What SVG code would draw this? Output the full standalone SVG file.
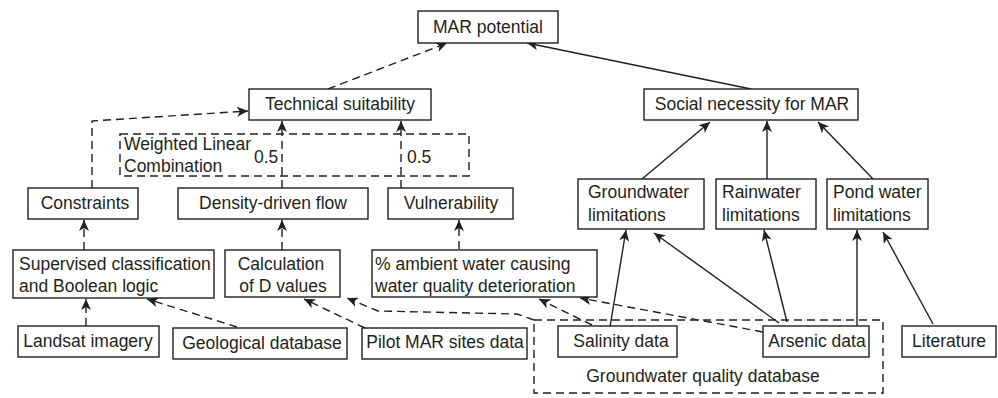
<svg xmlns="http://www.w3.org/2000/svg" width="998" height="398" viewBox="0 0 998 398">
<style>
  .box { fill: #fff; stroke: #231f20; stroke-width: 1.4; }
  .dbox { fill: none; stroke: #231f20; stroke-width: 1.4; stroke-dasharray: 8,5; }
  text { font-family: "Liberation Sans", Arial, sans-serif; font-size: 17.5px; fill: #231f20; }
  .c { text-anchor: middle; }
  .solid { fill: none; stroke: #231f20; stroke-width: 1.4; marker-end: url(#ah); }
  .dash { fill: none; stroke: #231f20; stroke-width: 1.4; stroke-dasharray: 8,5; marker-end: url(#ah); stroke-linejoin: round; }
</style>
<defs>
  <marker id="ah" markerUnits="userSpaceOnUse" markerWidth="12" markerHeight="11" refX="11" refY="5" orient="auto">
    <path d="M0,0 L11,5 L0,10 L3,5 Z" fill="#231f20"/>
  </marker>
</defs>
<rect width="998" height="398" fill="#fff"/>

<g id="connectors">
  <path class="dash" d="M328,89 L447,43"/>
  <path class="solid" d="M751,89 L527,43"/>
  <path class="dash" d="M92,188 L92,121 L248,111"/>
  <path class="dash" d="M282,188 L282,121"/>
  <path class="dash" d="M401,188 L401,121"/>
  <path class="solid" d="M642,179 L710,122"/>
  <path class="solid" d="M767,179 L767,121"/>
  <path class="solid" d="M873,179 L818,122"/>
  <path class="dash" d="M84,250 L84,220"/>
  <path class="dash" d="M282,250 L282,220"/>
  <path class="dash" d="M459,249 L459,220"/>
  <path class="dash" d="M86,326 L86,299"/>
  <path class="dash" d="M237,327 L147,299"/>
  <path class="dash" d="M365,328 L304,299"/>
  <path class="dash" d="M534,320 L517,314 L378,311 L347,298"/>
  <path class="dash" d="M592,325 L539,299"/>
  <path class="dash" d="M763,332 L580,298"/>
  <path class="solid" d="M610,327 L626,230"/>
  <path class="solid" d="M779,323 L654,233"/>
  <path class="solid" d="M787,322 L764,230"/>
  <path class="solid" d="M857,326 L857,230"/>
  <path class="solid" d="M933,324 L883,232"/>
</g>

<g id="wlc">
  <rect class="dbox" x="120" y="134" width="349" height="42"/>
  <text x="124" y="150">Weighted Linear</text>
  <text x="124" y="172">Combination</text>
  <text x="254" y="163">0.5</text>
  <text x="407" y="163">0.5</text>
</g>

<g id="gwqdb">
  <rect class="dbox" x="534" y="320" width="349" height="73"/>
  <text class="c" x="703" y="382">Groundwater quality database</text>
</g>

<g id="mar-potential">
  <rect class="box" x="418" y="11" width="140" height="32"/>
  <text class="c" x="488" y="33">MAR potential</text>
</g>
<g id="technical-suitability">
  <rect class="box" x="249" y="89" width="182" height="31"/>
  <text class="c" x="340" y="110">Technical suitability</text>
</g>
<g id="social-necessity">
  <rect class="box" x="644" y="89" width="214" height="31"/>
  <text class="c" x="752" y="110">Social necessity for MAR</text>
</g>
<g id="constraints">
  <rect class="box" x="28" y="188" width="110" height="31"/>
  <text class="c" x="85" y="209">Constraints</text>
</g>
<g id="density-flow">
  <rect class="box" x="178" y="188" width="190" height="31"/>
  <text class="c" x="273" y="209">Density-driven flow</text>
</g>
<g id="vulnerability">
  <rect class="box" x="388" y="188" width="125" height="31"/>
  <text class="c" x="451" y="209">Vulnerability</text>
</g>
<g id="gw-limitations">
  <rect class="box" x="578" y="179" width="126" height="50"/>
  <text x="588" y="198">Groundwater</text>
  <text x="588" y="221">limitations</text>
</g>
<g id="rain-limitations">
  <rect class="box" x="716" y="179" width="100" height="50"/>
  <text x="722" y="198">Rainwater</text>
  <text x="722" y="221">limitations</text>
</g>
<g id="pond-limitations">
  <rect class="box" x="827" y="179" width="101" height="50"/>
  <text x="833" y="198">Pond water</text>
  <text x="833" y="221">limitations</text>
</g>
<g id="supervised">
  <rect class="box" x="13" y="250" width="201" height="48"/>
  <text x="19" y="270">Supervised classification</text>
  <text x="19" y="292">and Boolean logic</text>
</g>
<g id="calc-d">
  <rect class="box" x="225" y="250" width="115" height="47"/>
  <text class="c" x="281" y="270">Calculation</text>
  <text class="c" x="283" y="292">of D values</text>
</g>
<g id="ambient">
  <rect class="box" x="372" y="250" width="225" height="47"/>
  <text x="375" y="270">% ambient water causing</text>
  <text x="375" y="292">water quality deterioration</text>
</g>
<g id="landsat">
  <rect class="box" x="18" y="326" width="141" height="31"/>
  <text class="c" x="88" y="347">Landsat imagery</text>
</g>
<g id="geological">
  <rect class="box" x="173" y="328" width="174" height="31"/>
  <text class="c" x="262" y="349">Geological database</text>
</g>
<g id="pilot">
  <rect class="box" x="362" y="328" width="165" height="31"/>
  <text class="c" x="445" y="348">Pilot MAR sites data</text>
</g>
<g id="salinity">
  <rect class="box" x="558" y="326" width="119" height="31"/>
  <text class="c" x="621" y="347">Salinity data</text>
</g>
<g id="arsenic">
  <rect class="box" x="763" y="326" width="106" height="31"/>
  <text class="c" x="817" y="347">Arsenic data</text>
</g>
<g id="literature">
  <rect class="box" x="902" y="326" width="94" height="31"/>
  <text class="c" x="949" y="347">Literature</text>
</g>
</svg>
